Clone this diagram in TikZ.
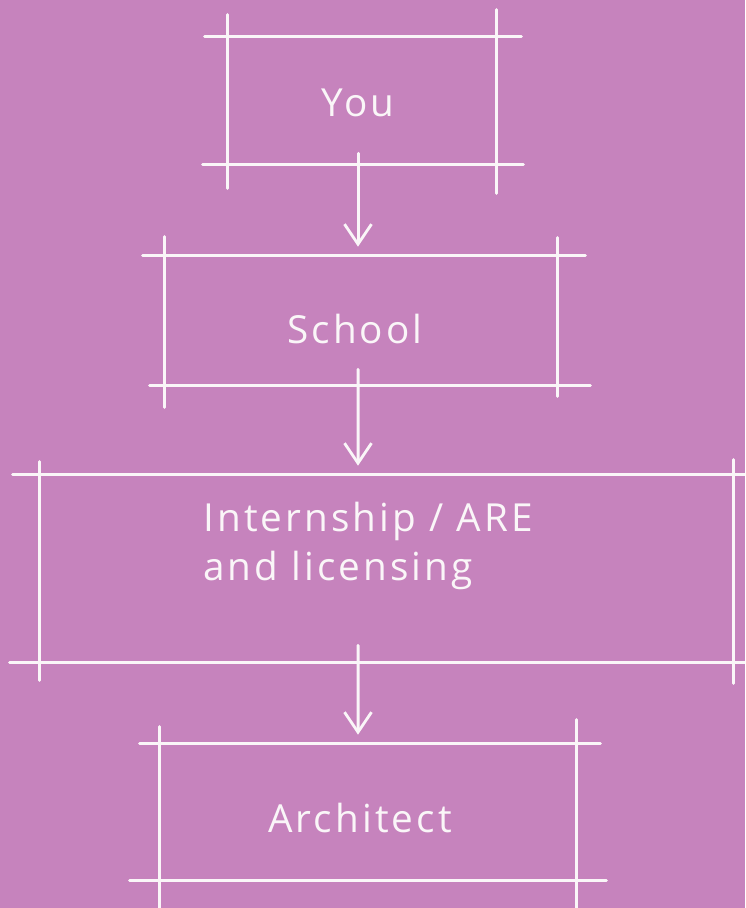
\documentclass[tikz,border=0pt]{standalone}
\usepackage{fontspec}
\newfontfamily\handfont[LetterSpace=8]{Open Sans}
\usepackage{xcolor}
\definecolor{PaperPink}{HTML}{C683BD}
\definecolor{ChalkWhite}{HTML}{FAF6F8}
\usepackage{tikz}
\usetikzlibrary{arrows.meta, positioning}

\begin{document}
\begin{tikzpicture}[
  x=0.02cm, y=-0.02cm,
  every node/.style={font=\handfont},
  frame/.style={rectangle, inner sep=0pt},
  pen/.style={draw=ChalkWhite, line width=1.7pt, line cap=round},
  flowarr/.style={pen, -{Straight Barb[length=4mm, width=5.4mm, line width=1.6pt]},
                  shorten >=0.18cm},
  lbl/.style={text=ChalkWhite, font=\handfont\fontsize{22}{28}\selectfont}
]

% paper
\fill[PaperPink] (0,0) rectangle (745,908);
\useasboundingbox (0,0) rectangle (745,908);
\clip (0,0) rectangle (745,908);

\node[frame, minimum width=5.36cm, minimum height=2.54cm]  (you)    at (362, 100.5) {};
\node[frame, minimum width=7.84cm, minimum height=2.58cm]  (school) at (361, 320.5) {};
\node[frame, minimum width=13.86cm, minimum height=3.74cm] (intern) at (386.5, 568.5) {};
\node[frame, minimum width=8.32cm, minimum height=2.72cm]  (arch)   at (368, 812) {};

\node[lbl] (youtxt)    at (358, 103) {You};
\node[lbl] (schooltxt) at (355, 329) {School};
\node[lbl, align=left] (interntxt) at (368, 546) {Internship / ARE\\and licensing};
\node[lbl] (archtxt)   at (360, 818) {Architect};

% you
\draw[pen] ([xshift=-0.46cm]you.north west) -- ([xshift=0.5cm]you.north east);
\draw[pen] ([xshift=-0.5cm]you.south west) -- ([xshift=0.54cm]you.south east);
\draw[pen] ([yshift=0.44cm]you.north west) -- ([yshift=-0.48cm]you.south west);
\draw[pen] ([yshift=0.54cm]you.north east) -- ([yshift=-0.58cm]you.south east);

% school
\draw[pen] ([xshift=-0.44cm]school.north west) -- ([xshift=0.56cm]school.north east);
\draw[pen] ([xshift=-0.3cm]school.south west) -- ([xshift=0.66cm]school.south east);
\draw[pen] ([yshift=0.38cm]school.north west) -- ([yshift=-0.44cm]school.south west);
\draw[pen] ([yshift=0.36cm]school.north east) -- ([yshift=-0.22cm]school.south east);

% internship
\draw[pen] ([xshift=-0.54cm]intern.north west) -- ([xshift=0.5cm]intern.north east);
\draw[pen] ([xshift=-0.6cm]intern.south west) -- ([xshift=0.5cm]intern.south east);
\draw[pen] ([yshift=0.26cm]intern.north west) -- ([yshift=-0.36cm]intern.south west);
\draw[pen] ([yshift=0.3cm]intern.north east) -- ([yshift=-0.42cm]intern.south east);

% architect
\draw[pen] ([xshift=-0.4cm]arch.north west) -- ([xshift=0.48cm]arch.north east);
\draw[pen] ([xshift=-0.6cm]arch.south west) -- ([xshift=0.6cm]arch.south east);
\draw[pen] ([yshift=0.34cm]arch.north west) -- ([yshift=-0.6cm]arch.south west);
\draw[pen] ([yshift=0.48cm]arch.north east) -- ([yshift=-0.6cm]arch.south east);

\draw[flowarr] ([xshift=-0.08cm, yshift=0.22cm]you.south) -- ([xshift=-0.06cm]school.north);
\draw[flowarr] ([xshift=-0.06cm, yshift=0.32cm]school.south) -- ([xshift=-0.57cm]intern.north);
\draw[flowarr] ([xshift=-0.57cm, yshift=0.34cm]intern.south) -- ([xshift=-0.2cm]arch.north);

\end{tikzpicture}
\end{document}
